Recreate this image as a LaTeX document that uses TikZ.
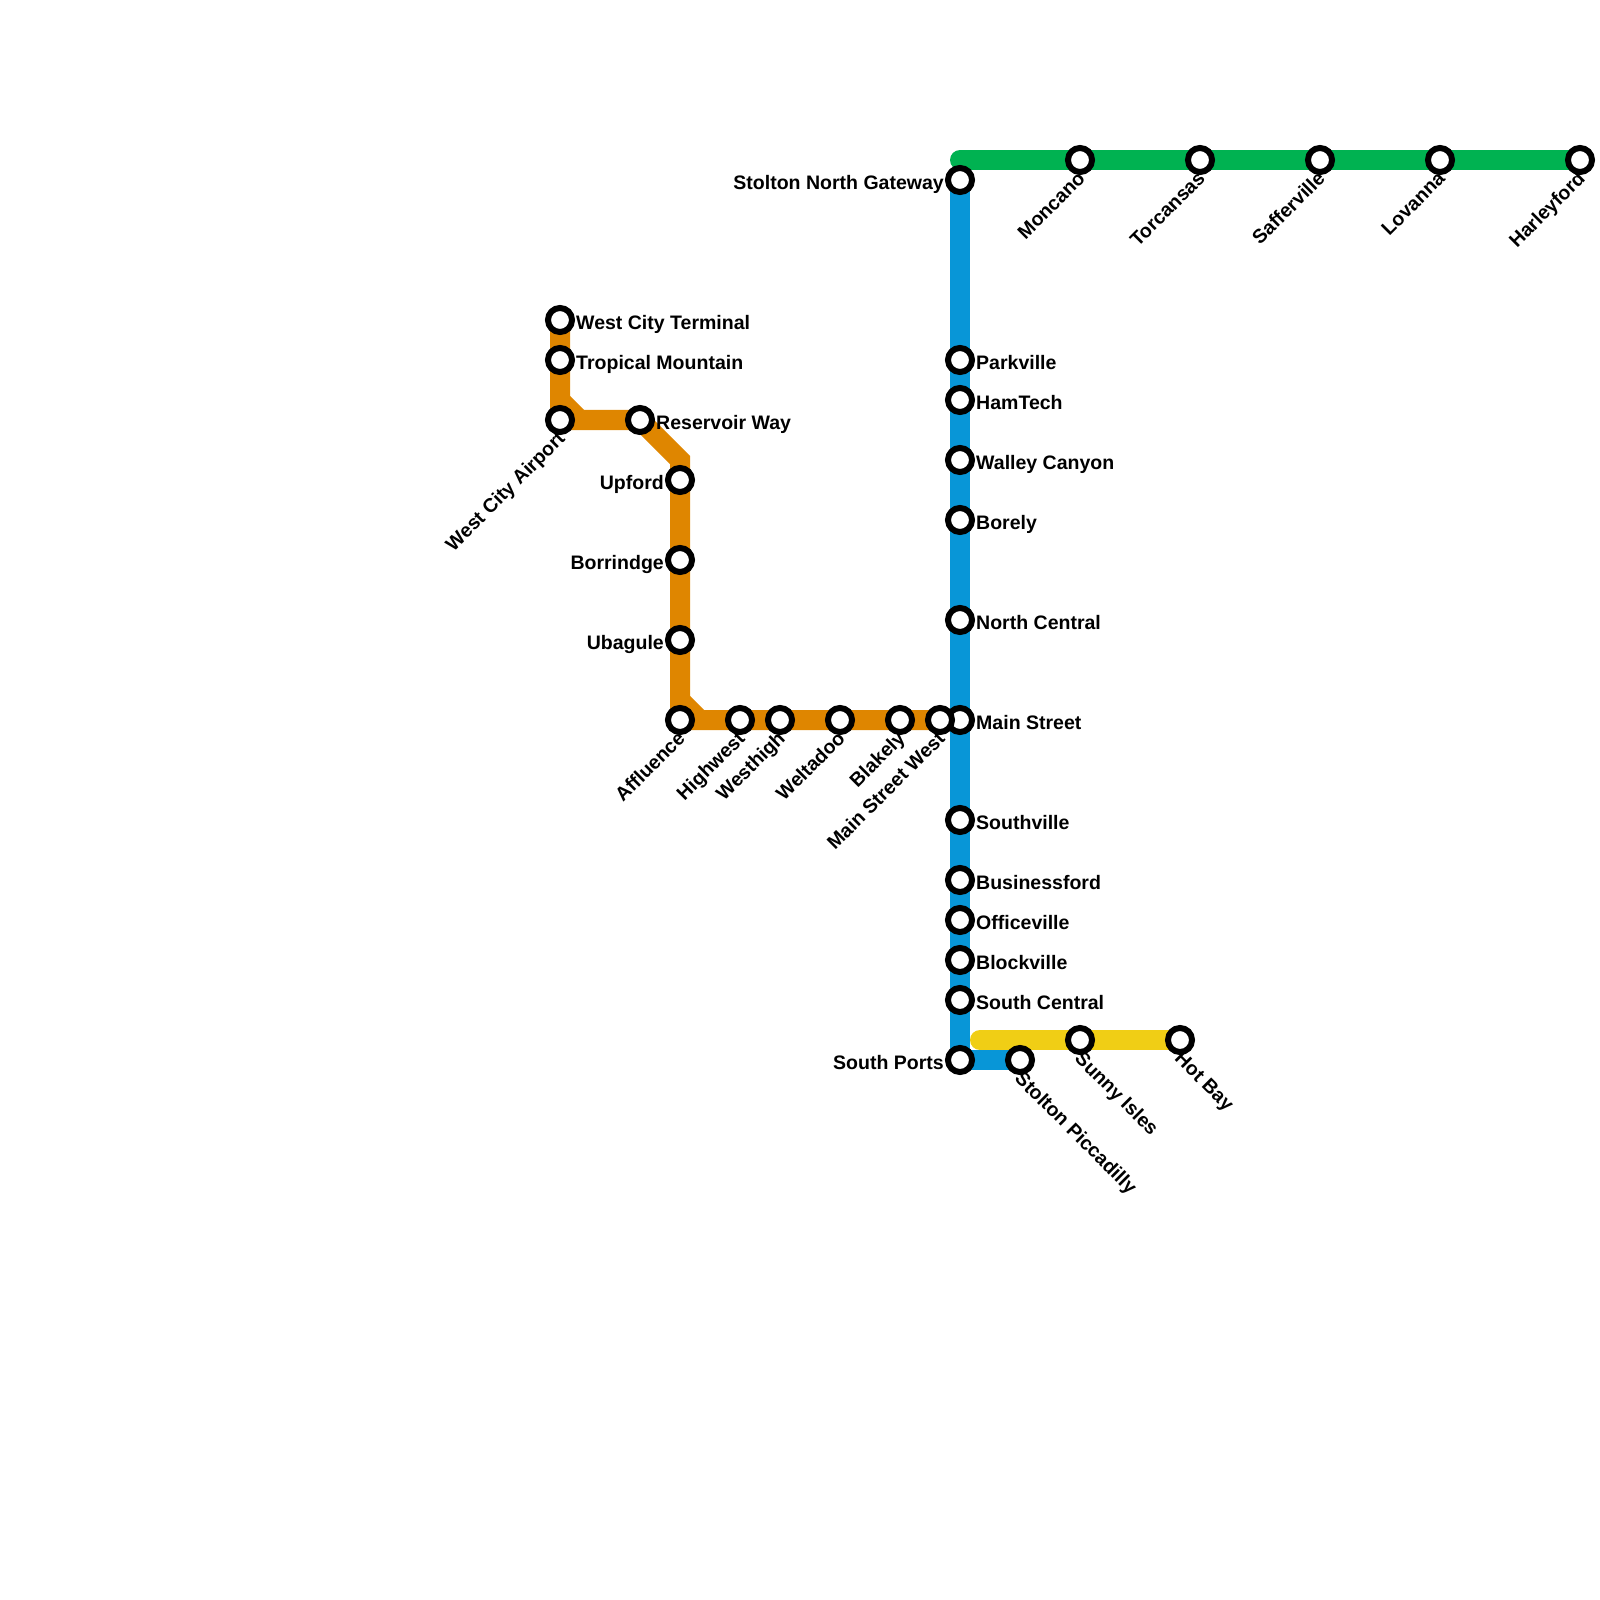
\documentclass[tikz,border=0pt]{standalone}
\usepackage{fontspec}
\setmainfont{Liberation Sans}
\usetikzlibrary{backgrounds}
\definecolor{greenline}{HTML}{00B251}
\definecolor{blueline}{HTML}{0896D7}
\definecolor{orangeline}{HTML}{DF8600}
\definecolor{yellowline}{HTML}{F0CE15}
\begin{document}
\begin{tikzpicture}[
    x=0.01cm, y=-0.01cm,
    station/.style={circle, draw=black, fill=white, line width=0.06cm, inner sep=0pt, minimum size=0.24cm},
    stationname/.style={inner sep=0pt, font=\fontsize{5.55pt}{6pt}\selectfont\bfseries},
    nameright/.style={stationname, anchor=mid west, xshift=0.155cm},
    nameleft/.style={stationname, anchor=mid east, xshift=-0.155cm},
    namedownleft/.style={stationname, anchor=mid east, rotate=45, xshift=-0.09cm, yshift=-0.09cm},
    namedownright/.style={stationname, anchor=mid west, rotate=-45, xshift=0.09cm, yshift=-0.09cm},
    metro/.style={line width=0.2cm, line join=miter},
    metroend/.style={metro, line cap=round},
]
\useasboundingbox (0,0) rectangle (1600,1600);

% green line
\node (gateway) [station] at (960,180) {};
\coordinate (greenstart) at (960,160);
\node (moncano) [station] at (1080,160) {};
\node (torcansas) [station] at (1200,160) {};
\node (safferville) [station] at (1320,160) {};
\node (lovanna) [station] at (1440,160) {};
\node (harleyford) [station] at (1580,160) {};

% blue line
\node (parkville) [station] at (960,360) {};
\node (hamtech) [station] at (960,400) {};
\node (walley) [station] at (960,460) {};
\node (borely) [station] at (960,520) {};
\node (northcentral) [station] at (960,620) {};
\node (mainstreet) [station] at (960,720) {};
\node (southville) [station] at (960,820) {};
\node (businessford) [station] at (960,880) {};
\node (officeville) [station] at (960,920) {};
\node (blockville) [station] at (960,960) {};
\node (southcentral) [station] at (960,1000) {};
\node (southports) [station] at (960,1060) {};
\node (piccadilly) [station] at (1020,1060) {};

% yellow line
\coordinate (yellowstart) at (980,1040);
\node (sunnyisles) [station] at (1080,1040) {};
\node (hotbay) [station] at (1180,1040) {};

% orange line
\node (terminal) [station] at (560,320) {};
\node (tropical) [station] at (560,360) {};
\node (airport) [station] at (560,420) {};
\node (reservoir) [station] at (640,420) {};
\node (upford) [station] at (680,480) {};
\node (borrindge) [station] at (680,560) {};
\node (ubagule) [station] at (680,640) {};
\node (affluence) [station] at (680,720) {};
\node (highwest) [station] at (740,720) {};
\node (westhigh) [station] at (780,720) {};
\node (weltadoo) [station] at (840,720) {};
\node (blakely) [station] at (900,720) {};
\node (mainwest) [station] at (940,720) {};
\coordinate (bendtop) at (680,460);
\coordinate (bendaone) at (560,400);
\coordinate (bendatwo) at (580,420);
\coordinate (bendbone) at (680,700);
\coordinate (bendbtwo) at (700,720);

\begin{pgfonlayer}{background}
\draw [metro, blueline] (gateway.center) -- (southports.center) -- (piccadilly.center);
\draw [metroend, greenline] (greenstart) -- (harleyford.center);
\draw [metroend, yellowline] (yellowstart) -- (hotbay.center);
\draw [metro, orangeline] (terminal.center) -- (airport.center) -- (reservoir.center) -- (bendtop) -- (affluence.center) -- (mainwest.center);
\draw [metro, orangeline] (bendaone) -- (bendatwo);
\draw [metro, orangeline] (bendbone) -- (bendbtwo);
\end{pgfonlayer}

\node (gatewayname) [nameleft] at (gateway) {Stolton North Gateway};
\node (moncanoname) [namedownleft] at (moncano) {Moncano};
\node (torcansasname) [namedownleft] at (torcansas) {Torcansas};
\node (saffervillename) [namedownleft] at (safferville) {Safferville};
\node (lovannaname) [namedownleft] at (lovanna) {Lovanna};
\node (harleyfordname) [namedownleft] at (harleyford) {Harleyford};

\node (parkvillename) [nameright] at (parkville) {Parkville};
\node (hamtechname) [nameright] at (hamtech) {HamTech};
\node (walleyname) [nameright] at (walley) {Walley Canyon};
\node (borelyname) [nameright] at (borely) {Borely};
\node (northcentralname) [nameright] at (northcentral) {North Central};
\node (mainstreetname) [nameright] at (mainstreet) {Main Street};
\node (southvillename) [nameright] at (southville) {Southville};
\node (businessfordname) [nameright] at (businessford) {Businessford};
\node (officevillename) [nameright] at (officeville) {Officeville};
\node (blockvillename) [nameright] at (blockville) {Blockville};
\node (southcentralname) [nameright] at (southcentral) {South Central};
\node (southportsname) [nameleft] at (southports) {South Ports};
\node (piccadillyname) [namedownright] at (piccadilly) {Stolton Piccadilly};

\node (sunnyislesname) [namedownright] at (sunnyisles) {Sunny Isles};
\node (hotbayname) [namedownright] at (hotbay) {Hot Bay};

\node (terminalname) [nameright] at (terminal) {West City Terminal};
\node (tropicalname) [nameright] at (tropical) {Tropical Mountain};
\node (airportname) [namedownleft] at (airport) {West City Airport};
\node (reservoirname) [nameright] at (reservoir) {Reservoir Way};
\node (upfordname) [nameleft] at (upford) {Upford};
\node (borrindgename) [nameleft] at (borrindge) {Borrindge};
\node (ubagulename) [nameleft] at (ubagule) {Ubagule};
\node (affluencename) [namedownleft] at (affluence) {Affluence};
\node (highwestname) [namedownleft] at (highwest) {Highwest};
\node (westhighname) [namedownleft] at (westhigh) {Westhigh};
\node (weltadooname) [namedownleft] at (weltadoo) {Weltadoo};
\node (blakelyname) [namedownleft] at (blakely) {Blakely};
\node (mainwestname) [namedownleft] at (mainwest) {Main Street West};

\end{tikzpicture}
\end{document}
